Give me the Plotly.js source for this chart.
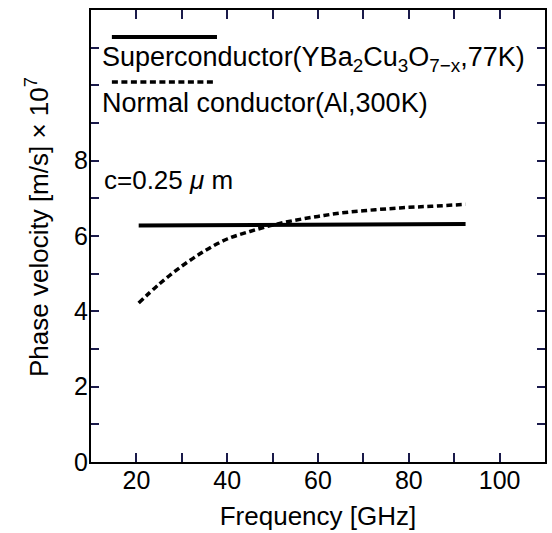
<!DOCTYPE html>
<html>
<head>
<meta charset="utf-8">
<script src="https://cdn.plot.ly/plotly-3.0.1.min.js"></script>
<style>html,body{margin:0;padding:0;background:#fff;}#chart{width:552px;height:533px;}</style>
</head>
<body>
<div id="chart"></div>
<script>
// Superconductor (YBa2Cu3O7-x, 77K)
var superFreq = [20.5, 92.5];
var superVel = [6.28, 6.32];
// Normal conductor (Al, 300K)
var normalFreq = [20.5, 25, 30, 35, 40, 45, 50, 55, 60, 65, 70, 75, 80, 85, 92.5];
var normalVel = [4.22, 4.72, 5.2, 5.6, 5.92, 6.12, 6.29, 6.42, 6.52, 6.61, 6.67, 6.72, 6.76, 6.79, 6.84];
var xTickVals = [20, 40, 60, 80, 100];
var xMinorVals = [30, 50, 70, 90];
var yTickVals = [0, 2, 4, 6, 8];
var yMinorVals = [1, 3, 5, 7, 9, 10, 11];
var superLabel = 'Superconductor(YBa<sub>2</sub>Cu<sub>3</sub>O<sub>7\u2212x</sub>,77K)';
var normalLabel = 'Normal conductor(Al,300K)';
var noteLabel = 'c=0.25 <i>\u03bc</i> m';
var xTitle = 'Frequency [GHz]';
var yTitle = 'Phase velocity [m/s] \u00d7 10<sup>7</sup>';

var FONT = '"Liberation Sans", Arial, Helvetica, sans-serif';
var TICK_COLOR = '#1a1a4a';

var traces = [
  {x: superFreq, y: superVel, mode: 'lines', line: {color: '#000', width: 4}, showlegend: false, hoverinfo: 'skip'},
  {x: normalFreq, y: normalVel, mode: 'lines', line: {color: '#000', width: 3.5, dash: '6px,3.5px', shape: 'spline'}, showlegend: false, hoverinfo: 'skip'}
];

var legendShapes = [
  {type: 'line', xref: 'paper', yref: 'paper', x0: 0.046, x1: 0.2775, y0: 0.940, y1: 0.940, line: {color: '#000', width: 4}},
  {type: 'line', xref: 'paper', yref: 'paper', x0: 0.046, x1: 0.269, y0: 0.8407, y1: 0.8407, line: {color: '#000', width: 3.5, dash: '6px,3.5px'}}
];

var layout = {
  width: 552, height: 533,
  margin: {l: 91, r: 7, t: 10, b: 71, pad: 0},
  paper_bgcolor: '#fff', plot_bgcolor: '#fff',
  font: {family: FONT, color: '#000', size: 25},
  showlegend: false,
  xaxis: {
    range: [10, 110], tickmode: 'array', tickvals: xTickVals,
    ticks: 'inside', ticklen: 9, tickwidth: 2, tickcolor: TICK_COLOR,
    minor: {tickmode: 'array', tickvals: xMinorVals, ticks: 'inside', ticklen: 9, tickwidth: 2, tickcolor: TICK_COLOR, showgrid: false},
    showline: true, linewidth: 2, linecolor: '#000', mirror: 'allticks',
    showgrid: false, zeroline: false, ticklabelstandoff: -5,
    tickfont: {size: 25, family: FONT},
    title: {text: xTitle, font: {size: 26, family: FONT}, standoff: 14}
  },
  yaxis: {
    range: [0, 12], tickmode: 'array', tickvals: yTickVals,
    ticks: 'inside', ticklen: 8, tickwidth: 2, tickcolor: TICK_COLOR,
    minor: {tickmode: 'array', tickvals: yMinorVals, ticks: 'inside', ticklen: 8, tickwidth: 2, tickcolor: TICK_COLOR, showgrid: false},
    showline: true, linewidth: 2, linecolor: '#000', mirror: 'allticks',
    showgrid: false, zeroline: false, ticklabelstandoff: -4,
    tickfont: {size: 25, family: FONT}
  },
  shapes: legendShapes,
  annotations: [
    {xref: 'paper', yref: 'paper', x: 0.02, y: 0.8916, xanchor: 'left', yanchor: 'middle', text: superLabel, showarrow: false, font: {size: 27, family: FONT}},
    {xref: 'paper', yref: 'paper', x: 0.02, y: 0.794, xanchor: 'left', yanchor: 'middle', text: normalLabel, showarrow: false, font: {size: 27, family: FONT}},
    {xref: 'paper', yref: 'paper', x: 0.024, y: 0.624, xanchor: 'left', yanchor: 'middle', text: noteLabel, showarrow: false, font: {size: 26, family: FONT}},
    {xref: 'paper', yref: 'paper', x: -0.1167, y: 0.52, xanchor: 'center', yanchor: 'middle', textangle: -90, text: yTitle, showarrow: false, font: {size: 26, family: FONT}}
  ]
};

Plotly.newPlot('chart', traces, layout, {staticPlot: true, displayModeBar: false});
</script>
</body>
</html>
